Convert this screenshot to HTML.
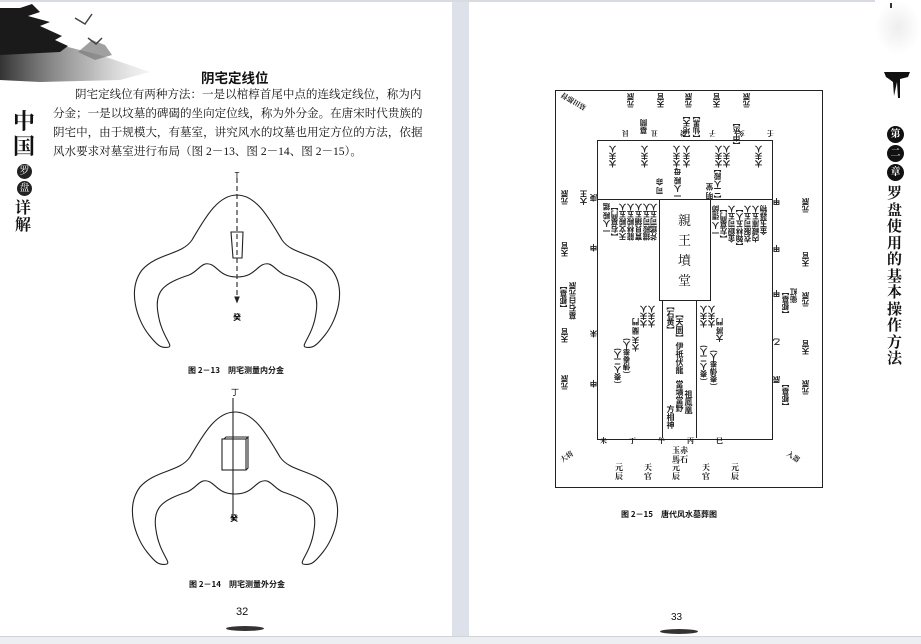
<!DOCTYPE html>
<html><head><meta charset="utf-8">
<style>
html,body{margin:0;padding:0;}
body{width:921px;height:643px;position:relative;overflow:hidden;background:#fff;font-family:"Liberation Serif","Noto Serif CJK SC","Noto Sans CJK SC",serif;color:#111;}
.a{position:absolute;}
.p{position:absolute;left:53px;font-size:11.55px;line-height:19px;font-family:"Liberation Serif","Noto Serif CJK SC",serif;white-space:nowrap;}
.v{position:absolute;writing-mode:vertical-rl;font-size:7.5px;line-height:8px;font-weight:bold;font-family:"Noto Sans CJK SC",sans-serif;transform:rotate(180deg);white-space:nowrap;color:#222}
.u{position:absolute;writing-mode:vertical-rl;font-size:8px;line-height:8px;font-weight:bold;font-family:"Noto Sans CJK SC",sans-serif;white-space:nowrap;color:#222}
.cap{position:absolute;font-size:8px;font-weight:bold;font-family:"Noto Sans CJK SC",sans-serif;white-space:nowrap;}
</style></head><body>
<div class="a" style="left:452px;top:0;width:17px;height:643px;background:#dde1e9"></div>
<div class="a" style="left:0;top:0;width:921px;height:2px;background:#d8dbe0"></div>
<div class="a" style="left:0;top:636px;width:921px;height:7px;background:#eceef1;border-top:1px solid #d0d3d8"></div>

<svg class="a" style="left:0;top:0" width="160" height="85">
<defs><linearGradient id="g" x1="0" x2="1"><stop offset="0" stop-color="#333"/><stop offset="0.6" stop-color="#888" stop-opacity="0.6"/><stop offset="1" stop-color="#ccc" stop-opacity="0.2"/></linearGradient></defs>
<path d="M0,50 L60,45 L100,55 L150,72 L120,80 L40,82 L0,80 Z" fill="url(#g)"/>
<path d="M0,8 L20,8 L32,4 L40,12 L28,16 L50,22 L40,26 L62,36 L55,40 L68,46 L60,52 L0,55Z" fill="#1a1a1a"/>
<path d="M78,52 L92,40 L105,45 L112,55 L95,60Z" fill="#777" opacity="0.7"/>
<path d="M75,18 L85,24 L92,14 M88,38 L96,44 L102,38" stroke="#444" stroke-width="1.5" fill="none"/>
</svg>

<div class="a" style="left:13px;top:108px;font-size:22px;font-weight:bold;font-family:'Noto Serif CJK SC',serif;line-height:25px;width:30px;">中<br>国</div>
<div class="a" style="left:17px;top:164px;width:15px;height:15px;border-radius:50%;background:#222;color:#fff;font-size:10px;text-align:center;line-height:15px">罗</div>
<div class="a" style="left:17px;top:181px;width:15px;height:15px;border-radius:50%;background:#222;color:#fff;font-size:10px;text-align:center;line-height:15px">盘</div>
<div class="a" style="left:15px;top:198px;font-size:16px;font-weight:bold;line-height:17px;font-family:'Noto Serif CJK SC',serif">详<br>解</div>

<div class="a" style="left:201px;top:67px;font-size:13.5px;font-weight:bold;font-family:'Noto Sans CJK SC',sans-serif">阴宅定线位</div>
<div class="p" style="top:86px;left:75px">阴宅定线位有两种方法：一是以棺椁首尾中点的连线定线位，称为内</div>
<div class="p" style="top:105px">分金；一是以坟墓的碑碣的坐向定位线，称为外分金。在唐宋时代贵族的</div>
<div class="p" style="top:124px">阴宅中，由于规模大，有墓室，讲究风水的坟墓也用定方位的方法，依据</div>
<div class="p" style="top:143px">风水要求对墓室进行布局（图 2－13、图 2－14、图 2－15）。</div>

<svg class="a" style="left:0;top:0" width="452" height="600">
<g fill="none" stroke="#222" stroke-width="1.1">
<path id="hs" transform="translate(237,195)" d="M0,0 C20,0 33,25 45,45 C55,60 80,58 95,75 C110,95 100,125 88,140 C80,150 76,154 68,152 C64,150 76,140 79,118 C83,95 72,88 48,80 C38,76 35,65 25,70 C18,74 15,82 0,82 C-15,82 -18,74 -25,70 C-35,65 -38,76 -48,80 C-72,88 -83,95 -79,118 C-76,140 -64,150 -68,152 C-76,154 -80,150 -88,140 C-100,125 -110,95 -95,75 C-80,58 -55,60 -45,45 C-33,25 -20,0 0,0Z"/>
<use href="#hs" transform="translate(-2,217)"/>
<line x1="237" y1="178" x2="237" y2="302" stroke-dasharray="5,3"/>
<path d="M231,232 L243,232 L242,258 L233,258Z"/>
<path d="M237,302 L235,297 L239,297Z" fill="#222"/>
<line x1="233" y1="398" x2="233" y2="520"/>
<rect x="222" y="439" width="24" height="31"/>
<path d="M224,439 L226,437 L248,437 L246,439 M246,470 L248,468 L248,437"/>
</g>
<text x="237" y="178" font-size="8" text-anchor="middle" font-family="Liberation Sans">T</text>
<text x="237" y="320" font-size="8" text-anchor="middle" font-family="Noto Sans CJK SC" font-weight="bold">癸</text>
<text x="235" y="395" font-size="8" text-anchor="middle" font-family="Noto Sans CJK SC">丁</text>
<text x="234" y="521" font-size="8" text-anchor="middle" font-family="Noto Sans CJK SC" font-weight="bold">癸</text>
</svg>
<div class="cap" style="left:188px;top:365px">图 2－13　阴宅测量内分金</div>
<div class="cap" style="left:189px;top:579px">图 2－14　阴宅测量外分金</div>
<div class="a" style="left:236px;top:606px;font-size:11px;font-family:'Liberation Sans',sans-serif">32</div>
<div class="a" style="left:226px;top:626px;width:38px;height:5px;background:#333;border-radius:50%"></div>

<div class="a" style="left:875px;top:0;width:46px;height:55px;background:radial-gradient(#eee,#fff 70%)"></div>
<div class="a" style="left:890px;top:3px;width:2px;height:5px;background:#333"></div>
<svg class="a" style="left:882px;top:68px" width="30" height="34"><path d="M2,4 L28,4 L26,9 L18,11 L18,30 L16,30 L15,14 L12,28 L11,14 L7,11 L4,9Z" fill="#111"/></svg>
<div class="a" style="left:887px;top:126px;width:17px;height:17px;border-radius:50%;background:#111;color:#fff;font-size:10px;text-align:center;line-height:17px;font-weight:bold">第</div>
<div class="a" style="left:887px;top:145px;width:17px;height:17px;border-radius:50%;background:#111;color:#fff;font-size:10px;text-align:center;line-height:17px;font-weight:bold">二</div>
<div class="a" style="left:887px;top:164px;width:17px;height:17px;border-radius:50%;background:#111;color:#fff;font-size:10px;text-align:center;line-height:17px;font-weight:bold">章</div>
<div class="a" style="left:887px;top:185px;font-size:15px;line-height:16.5px;width:18px;font-weight:bold;font-family:'Noto Serif CJK SC',serif">罗<br>盘<br>使<br>用<br>的<br>基<br>本<br>操<br>作<br>方<br>法</div>

<div class="a" style="left:555px;top:90px;width:266px;height:396px;border:1.5px solid #222"></div>
<div class="a" style="left:597px;top:140px;width:174px;height:298px;border:1.3px solid #222"></div>
<div class="a" style="left:597px;top:199px;width:175px;height:0;border-top:1.3px solid #222"></div>
<div class="a" style="left:659px;top:199px;width:50px;height:100px;border:1.3px solid #222;background:#fff"></div>
<div class="a" style="left:662px;top:300px;width:33px;height:138px;border-left:1.3px solid #222;border-right:1.3px solid #222"></div>
<div class="a" style="left:678px;top:210px;font-size:13px;line-height:20px;width:14px;font-family:'Noto Serif CJK SC',serif">親<br>王<br>墳<br>堂</div>

<div class="v" style="left:627px;top:93px">元辰</div>
<div class="v" style="left:657px;top:93px">天官</div>
<div class="v" style="left:685px;top:93px">元辰</div>
<div class="v" style="left:713px;top:93px">天官</div>
<div class="v" style="left:743px;top:93px">元辰</div>
<div class="v" style="left:683px;top:112px">【地天】</div>
<div class="v" style="left:693px;top:112px">【仙黑】</div>
<div class="v" style="left:640px;top:119px">墓闕</div>
<div class="v" style="left:733px;top:119px">【中丞】</div>
<div class="a" style="left:560px;top:96px;font-size:7px;font-weight:bold;transform:rotate(210deg);white-space:nowrap">墓田都督</div>
<div class="a" style="left:600px;top:128px;font-size:7px;font-weight:bold;transform:rotate(180deg);white-space:nowrap;letter-spacing:22px">壬亥子癸丑艮</div>
<div class="v" style="left:609px;top:145px">大夫人</div>
<div class="v" style="left:641px;top:145px">大夫人</div>
<div class="v" style="left:673px;top:145px">大夫人</div>
<div class="v" style="left:683px;top:145px">大夫人</div>
<div class="v" style="left:715px;top:145px">大夫人</div>
<div class="v" style="left:723px;top:145px">大夫人</div>
<div class="v" style="left:755px;top:145px">大夫人</div>
<div class="v" style="left:674px;top:168px">一人殿 母</div>
<div class="v" style="left:714px;top:165px">【二人殿】</div>
<div class="v" style="left:656px;top:178px">司 命</div>
<div class="v" style="left:706px;top:183px">明 堂</div>
<div class="v" style="left:603px;top:203px">一人殿 鑑</div>
<div class="v" style="left:611px;top:203px">【右墓門】</div>
<div class="v" style="left:619px;top:203px">天文殿五人</div>
<div class="v" style="left:627px;top:203px">龍林殿五人</div>
<div class="v" style="left:635px;top:203px">寶貝鋪五人</div>
<div class="v" style="left:643px;top:203px">鐵殿司五人</div>
<div class="v" style="left:650px;top:203px">斧鑑司五人</div>
<div class="v" style="left:712px;top:205px">一人 彊師</div>
<div class="v" style="left:720px;top:205px">【左墓門】</div>
<div class="v" style="left:728px;top:205px">金銀司五人</div>
<div class="v" style="left:736px;top:205px">【翰林五人】</div>
<div class="v" style="left:744px;top:205px">衣服司五人</div>
<div class="v" style="left:752px;top:205px">内藏庫五人</div>
<div class="v" style="left:760px;top:205px">金玉器物</div>
<div class="u" style="left:666px;top:302px">【石黄】</div>
<div class="u" style="left:675px;top:310px">【天圜】伊祇伏龍</div>
<div class="u" style="left:675px;top:380px;line-height:9px">當壙當野</div>
<div class="u" style="left:684px;top:390px;line-height:9px">祖鳳凰</div>
<div class="u" style="left:666px;top:405px;line-height:9px">方相神</div>
<div class="v" style="left:640px;top:305px">大夫人</div>
<div class="v" style="left:648px;top:305px">大夫人</div>
<div class="v" style="left:632px;top:318px">大夫 蘭 門</div>
<div class="v" style="left:623px;top:338px">(傳奏奉人)</div>
<div class="v" style="left:614px;top:348px">(奏人二人)</div>
<div class="v" style="left:700px;top:305px">大夫人</div>
<div class="v" style="left:708px;top:305px">大夫人</div>
<div class="v" style="left:716px;top:318px">大將 門</div>
<div class="v" style="left:700px;top:345px">(奏人二人)</div>
<div class="v" style="left:710px;top:350px">(奏傳奉人)</div>
<div class="v" style="left:561px;top:190px">元辰</div>
<div class="v" style="left:580px;top:190px">大王</div>
<div class="v" style="left:561px;top:242px">天官</div>
<div class="v" style="left:560px;top:282px">【都墓】</div>
<div class="v" style="left:569px;top:282px">墓石白元辰</div>
<div class="v" style="left:561px;top:328px">天官</div>
<div class="v" style="left:561px;top:375px">元辰</div>
<div class="v" style="left:590px;top:194px">庚</div>
<div class="v" style="left:590px;top:244px">申</div>
<div class="v" style="left:590px;top:330px">未</div>
<div class="v" style="left:590px;top:380px">申</div>
<div class="v" style="left:802px;top:198px">元辰</div>
<div class="v" style="left:802px;top:252px">天官</div>
<div class="v" style="left:802px;top:292px">元辰</div>
<div class="v" style="left:782px;top:288px">【都墓】</div>
<div class="v" style="left:790px;top:288px">衛紅</div>
<div class="v" style="left:802px;top:340px">天官</div>
<div class="v" style="left:802px;top:380px">元辰</div>
<div class="v" style="left:782px;top:380px">【都墓】</div>
<div class="v" style="left:773px;top:198px">甲</div>
<div class="v" style="left:773px;top:245px">甲</div>
<div class="v" style="left:773px;top:290px">甲</div>
<div class="v" style="left:773px;top:338px">乙</div>
<div class="v" style="left:773px;top:376px">辰</div>
<div class="a" style="left:600px;top:436px;font-size:7px;font-weight:bold;white-space:nowrap;letter-spacing:22px">未丁午丙巳</div>
<div class="a" style="left:672px;top:447px;font-size:8px;line-height:8.5px;font-weight:bold;white-space:nowrap">玉赤<br>馬石</div>
<div class="a" style="left:672px;top:463px;font-size:8px;line-height:9px;font-weight:bold">元<br>辰</div>
<div class="a" style="left:615px;top:463px;font-size:8px;line-height:9px;font-weight:bold">元<br>辰</div>
<div class="a" style="left:644px;top:463px;font-size:8px;line-height:9px;font-weight:bold">天<br>官</div>
<div class="a" style="left:702px;top:463px;font-size:8px;line-height:9px;font-weight:bold">天<br>官</div>
<div class="a" style="left:731px;top:463px;font-size:8px;line-height:9px;font-weight:bold">元<br>辰</div>
<div class="a" style="left:560px;top:452px;font-size:7px;font-weight:bold;transform:rotate(-35deg);white-space:nowrap">大将</div>
<div class="a" style="left:786px;top:452px;font-size:7px;font-weight:bold;transform:rotate(35deg);white-space:nowrap">入器</div>

<div class="cap" style="left:621px;top:509px">图 2－15　唐代风水墓葬图</div>
<div class="a" style="left:671px;top:612px;font-size:10px;font-family:'Liberation Sans',sans-serif">33</div>
<div class="a" style="left:660px;top:629px;width:38px;height:5px;background:#333;border-radius:50%"></div>
</body></html>
